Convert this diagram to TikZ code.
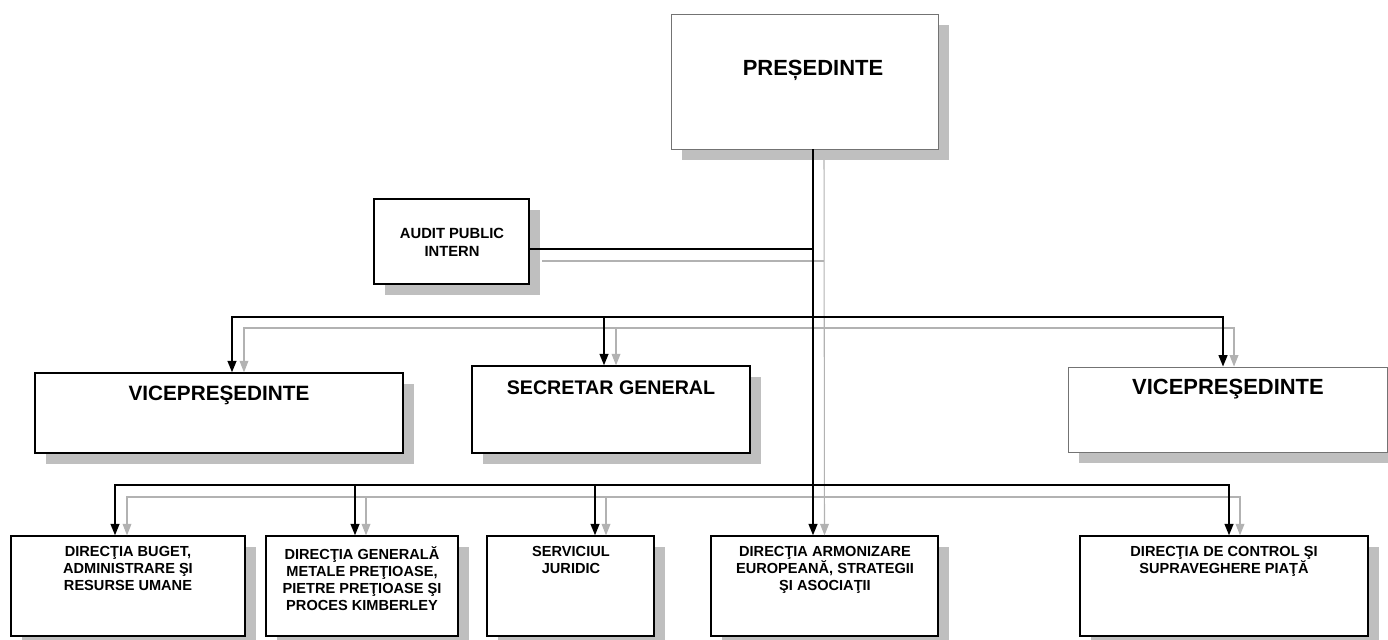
\documentclass[tikz,border=0pt]{standalone}
\usepackage{fontspec}
\setmainfont{Liberation Sans}
\usetikzlibrary{arrows.meta,shadows}

\tikzset{
  unitbox/.style={draw, line width=0.8pt, fill=white, inner sep=0pt,
    drop shadow={shadow xshift=0.22cm, shadow yshift=-0.22cm, fill=black!25, opacity=1}},
  thinbox/.style={unitbox, draw=black!55, line width=0.5pt},
  link/.style={line width=1pt},
  arr/.style={link, -{Triangle[length=6.5pt,width=5pt]}},
  glink/.style={line width=0.6pt, black!30},
  garr/.style={glink, -{Triangle[length=6.5pt,width=5pt]}},
  bigtxt/.style={font=\bfseries\fontsize{12.5}{14}\selectfont, inner sep=0pt},
  smalltxt/.style={font=\bfseries\fontsize{8.3}{9.8}\selectfont, align=center, anchor=north, inner sep=0pt},
}

\begin{document}
\begin{tikzpicture}[x=0.02cm, y=-0.02cm]
        \useasboundingbox (0,0) rectangle (1388,639);

        % boxes
        \node[thinbox, minimum width=5.34cm, minimum height=2.7cm] (pres) at (804.5,81.5) {};
        \node[unitbox, minimum width=3.1cm, minimum height=1.7cm] (audit) at (451.5,241.5) {};
        \node[unitbox, minimum width=7.36cm, minimum height=1.6cm] (vpl) at (219,413) {};
        \node[unitbox, minimum width=5.56cm, minimum height=1.74cm] (sg) at (611,409.5) {};
        \node[thinbox, minimum width=6.38cm, minimum height=1.7cm] (vpr) at (1227.5,409.5) {};
        \node[unitbox, minimum width=4.68cm, minimum height=2cm] (buget) at (128,586) {};
        \node[unitbox, minimum width=3.84cm, minimum height=2cm] (metale) at (362,586) {};
        \node[unitbox, minimum width=3.34cm, minimum height=2cm] (juridic) at (570.5,586) {};
        \node[unitbox, minimum width=4.54cm, minimum height=2cm] (armon) at (824.5,586) {};
        \node[unitbox, minimum width=5.76cm, minimum height=2cm] (control) at (1224,586) {};

        % texts
        \node[bigtxt] (tpres) at (813,70) {PREȘEDINTE};
        \node[bigtxt, font=\bfseries\fontsize{11.8}{14}\selectfont] (tvpl) at (219,395) {VICEPREŞEDINTE};
        \node[bigtxt, font=\bfseries\fontsize{11.2}{14}\selectfont] (tsg) at (611,388) {SECRETAR GENERAL};
        \node[bigtxt] (tvpr) at (1228,389) {VICEPREŞEDINTE};
        \node[smalltxt, font=\bfseries\fontsize{8.4}{10.2}\selectfont, anchor=center] (taudit) at (452,242) {AUDIT PUBLIC\\INTERN};
        \node[smalltxt] (tbuget) at (128,546) {DIRECŢIA BUGET,\\ADMINISTRARE ŞI\\RESURSE UMANE};
        \node[smalltxt] (tmetale) at (362,546) {DIRECŢIA GENERALĂ\\METALE PREŢIOASE,\\PIETRE PREŢIOASE ŞI\\PROCES KIMBERLEY};
        \node[smalltxt] (tjuridic) at (571,546) {SERVICIUL\\JURIDIC};
        \node[smalltxt] (tarmon) at (825,546) {DIRECŢIA ARMONIZARE\\EUROPEANĂ, STRATEGII\\ŞI ASOCIAŢII};
        \node[smalltxt] (tcontrol) at (1224,546) {DIRECŢIA DE CONTROL ŞI\\SUPRAVEGHERE PIAŢĂ};

        % joints
        \coordinate (top) at (813,149);
        \coordinate (ja) at (813,249);
        \coordinate (j2) at (813,317);
        \coordinate (j3) at (813,485);
        \coordinate (gtop) at (824,160);
        \coordinate (gja) at (824,261);
        \coordinate (gj2) at (824,328);
        \coordinate (gj3) at (824,497);

        % grey lines
        \draw[garr] (gtop) -- (armon.north);
        \draw[glink] (gja) -- ([xshift=0.24cm]gja -| audit.east);
        \draw[garr] (gj2) -| ([xshift=0.5cm]vpl.north);
        \draw[garr] (gj2) -| ([xshift=0.1cm]sg.north);
        \draw[garr] (gj2) -| ([xshift=0.13cm]vpr.north);
        \draw[garr] (gj3) -| ([xshift=-0.02cm]buget.north);
        \draw[garr] (gj3) -| ([xshift=0.08cm]metale.north);
        \draw[garr] (gj3) -| ([xshift=0.71cm]juridic.north);
        \draw[garr] (gj3) -| ([xshift=0.32cm]control.north);

        % black lines
        \draw[arr] (top) -- (top |- armon.north);
        \draw[link] (ja) -- (ja -| audit.east);
        \draw[arr] (j2) -| ([xshift=0.26cm]vpl.north);
        \draw[arr] (j2) -| ([xshift=-0.14cm]sg.north);
        \draw[arr] (j2) -| ([xshift=-0.09cm]vpr.north);
        \draw[arr] (j3) -| ([xshift=-0.26cm]buget.north);
        \draw[arr] (j3) -| ([xshift=-0.14cm]metale.north);
        \draw[arr] (j3) -| ([xshift=0.49cm]juridic.north);
        \draw[arr] (j3) -| ([xshift=0.1cm]control.north);

\end{tikzpicture}
\end{document}
